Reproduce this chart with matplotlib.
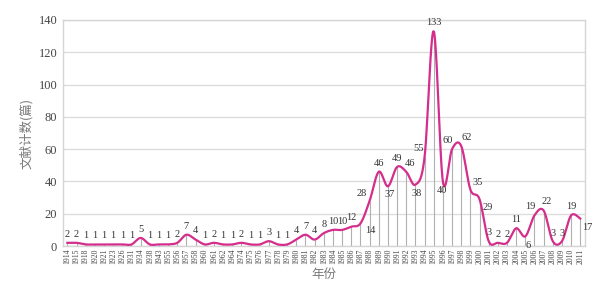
import numpy as np
import matplotlib
matplotlib.use("Agg")
import matplotlib.pyplot as plt

years = ["1914","1915","1918","1920","1921","1923","1926","1931","1934","1938",
         "1943","1955","1956","1957","1958","1960","1961","1962","1964",
         "1974","1975","1976","1977","1978","1979","1980","1981","1982",
         "1983","1984","1985","1986","1987","1988","1989","1990","1991","1992",
         "1993","1994","1995","1996","1997","1998","1999","2000","2001","2002",
         "2003","2004","2005","2006","2007","2008","2009","2010","2011"]
counts = [2,2,1,1,1,1,1,1,5,1,1,1,2,7,4,1,2,1,1,2,1,1,3,1,1,4,7,4,8,10,10,12,14,28,
          46,37,49,46,38,55,133,40,60,62,35,29,3,2,2,11,6,19,22,3,3,19,17]
# label offsets in points (dx, dy); negative dy puts the label below the point
label_offsets = {32: (7, -2), 33: (-6, 2), 35: (1, -3), 37: (3, 3), 38: (1, -3), 39: (-4, 3),
                 41: (-1, -3), 42: (-3, 3), 43: (4, 3), 44: (5, 2), 45: (6, -3),
                 50: (2, -3), 51: (-3, 3), 52: (2, 3), 53: (0, 2), 54: (0, 2),
                 55: (0, 3), 56: (5, -3)}

plt.rcParams['font.family'] = ['Liberation Serif', 'Noto Sans CJK SC']
fig = plt.figure(figsize=(5.98, 3.03), dpi=100)
ax = fig.add_axes([0.105, 0.188, 0.873, 0.746])

x = np.arange(len(counts))
y = np.array(counts, dtype=float)

def catmull(xp, yp, n=20):
    P = np.column_stack([xp, yp])
    P = np.vstack([P[0], P, P[-1]])
    out = []
    for i in range(1, len(P) - 2):
        p0, p1, p2, p3 = P[i-1], P[i], P[i+1], P[i+2]
        t = np.linspace(0, 1, n, endpoint=False)[:, None]
        pts = 0.5 * ((2*p1) + (-p0 + p2)*t + (2*p0 - 5*p1 + 4*p2 - p3)*t**2 + (-p0 + 3*p1 - 3*p2 + p3)*t**3)
        out.append(pts)
    out.append(P[-2][None, :])
    out = np.vstack(out)
    return out[:, 0], out[:, 1]

ax.vlines(x, 0, y, colors='#b0b0b0', linewidth=0.8, zorder=1)
sx, sy = catmull(x, y)
sy = np.maximum(sy, 0.3)
ax.plot(sx, sy, color='#d42d8c', linewidth=1.6, zorder=3)

for i, v in enumerate(counts):
    dx, dy = label_offsets.get(i, (0, 3))
    ax.annotate(str(v), (i, v), xytext=(dx, dy), textcoords='offset points',
                ha='center', va='bottom' if dy > 0 else 'top', fontsize=7.5, color='#333333')

ax.set_xlim(-0.5, len(counts) - 0.5)
ax.set_ylim(0, 140)
ax.set_yticks(range(0, 141, 20))
ax.yaxis.grid(True, color='#dddddd', linewidth=1.0)
ax.set_axisbelow(True)
ax.set_xticks(x)
ax.set_xticklabels(years, rotation=90, fontsize=5.5, color='#444444')
ax.tick_params(axis='x', length=0, pad=2)
ax.tick_params(axis='y', length=0, labelsize=9, colors='#444444', pad=4)
for s in ax.spines.values():
    s.set_color('#d5d5d5')
    s.set_linewidth(1.0)
ax.set_ylabel('文献计数(篇)', fontsize=9, color='#777777', family=['Noto Sans CJK SC'])
ax.set_xlabel('年份', fontsize=9, color='#777777', family=['Noto Sans CJK SC'], labelpad=3)

fig.savefig('out.png', dpi=100)
